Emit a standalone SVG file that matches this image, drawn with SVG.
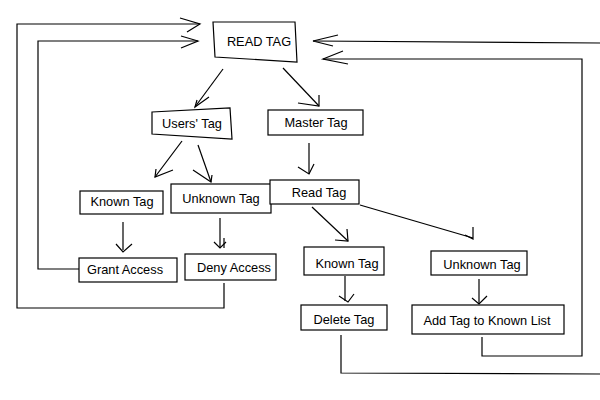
<svg xmlns="http://www.w3.org/2000/svg" width="600" height="400" viewBox="0 0 600 400">
<style>
.b{fill:#fff;stroke:#000;stroke-width:1.2}
.t{font-family:"Liberation Sans",Arial,sans-serif;font-size:12.8px;fill:#000;text-anchor:middle}
.c{fill:none;stroke:#000;stroke-width:1.2}
</style>
<rect width="600" height="400" fill="#fff"/>
<g id="connectors" class="c">
<polyline points="79,269 38,269 38,41 198,41"/>
<polyline points="181,36 198,41 181,48"/>
<polyline points="224,283 224,308 17,308 17,24 200,24"/>
<polyline points="180,18 200,24 187,32"/>
<polyline points="341,335 341,373 600,374"/>
<polyline points="600,43 313,41"/>
<polyline points="338,35 313,41 333,46"/>
<polyline points="482,337 482,356 582,356 582,59 323,59"/>
<polyline points="343,51 323,59 348,64"/>
<line x1="223" y1="69" x2="195" y2="107"/>
<polyline points="209,97 195,107 197,100"/>
<line x1="283" y1="68" x2="319" y2="106"/>
<polyline points="298,103 319,106 319,95"/>
<line x1="182" y1="141" x2="155" y2="177"/>
<polyline points="173,170 155,177 156,169"/>
<line x1="198" y1="145" x2="211" y2="182"/>
<polyline points="193,170 211,182 212,175"/>
<line x1="123" y1="222" x2="123" y2="250"/>
<polyline points="116,244 123,252 132,244"/>
<line x1="220" y1="218" x2="220" y2="248"/>
<polyline points="214,242 220,248 226,242"/>
<line x1="224" y1="238" x2="224" y2="248"/>
<line x1="309" y1="143" x2="309" y2="174"/>
<polyline points="298,167 309,174 314,164"/>
<line x1="312" y1="207" x2="348" y2="241"/>
<polyline points="335,240 348,241 347,229"/>
<line x1="360" y1="205" x2="473" y2="238"/>
<polyline points="465,235 473,239 473,227"/>
<line x1="345" y1="276" x2="345" y2="301"/>
<polyline points="339,296 348,302 354,294"/>
<line x1="479" y1="279" x2="479" y2="304"/>
<polyline points="472,298 479,304 487,296"/>
</g>
<g id="readTagTop">
<polygon class="b" points="213,22 295,22 297,62 215,57"/>
<text class="t" x="259" y="46">READ TAG</text>
</g>
<g id="usersTag">
<polygon class="b" points="152,112 230,108 232,139 152,134"/>
<text class="t" x="192" y="128">Users' Tag</text>
</g>
<g id="masterTag">
<rect class="b" x="268" y="110" width="95" height="25"/>
<text class="t" x="316" y="127">Master Tag</text>
</g>
<g id="knownTagL">
<rect class="b" x="80" y="191" width="83" height="23"/>
<text class="t" x="122" y="206">Known Tag</text>
</g>
<g id="unknownTagL">
<rect class="b" x="171" y="184" width="100" height="29"/>
<text class="t" x="221" y="203">Unknown Tag</text>
</g>
<g id="readTag">
<rect class="b" x="270" y="180" width="89" height="24"/>
<text class="t" x="319" y="197">Read Tag</text>
</g>
<g id="grantAccess">
<rect class="b" x="79" y="258" width="98" height="24"/>
<text class="t" x="125" y="274">Grant Access</text>
</g>
<g id="denyAccess">
<rect class="b" x="185" y="254" width="91" height="26"/>
<text class="t" x="234" y="272">Deny Access</text>
</g>
<g id="knownTagR">
<rect class="b" x="304" y="247" width="80" height="28"/>
<text class="t" x="347" y="268">Known Tag</text>
</g>
<g id="unknownTagR">
<rect class="b" x="431" y="251" width="96" height="24"/>
<text class="t" x="482" y="269">Unknown Tag</text>
</g>
<g id="deleteTag">
<rect class="b" x="301" y="305" width="86" height="25"/>
<text class="t" x="344" y="324">Delete Tag</text>
</g>
<g id="addTag">
<rect class="b" x="412" y="305" width="152" height="29"/>
<text class="t" x="487" y="325">Add Tag to Known List</text>
</g>
</svg>
